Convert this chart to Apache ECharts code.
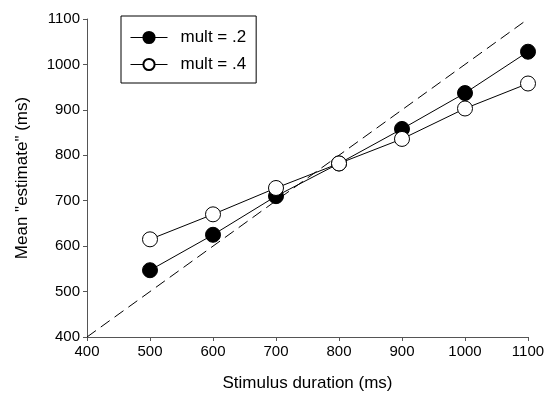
<!DOCTYPE html>
<html>
<head>
<meta charset="utf-8">
<script src="https://cdn.jsdelivr.net/npm/echarts@6/dist/echarts.min.js"></script>
<style>
html,body{margin:0;padding:0;background:#fff;}
#chart{width:550px;height:399px;}
</style>
</head>
<body>
<div id="chart"></div>
<script>
var durations = [500, 600, 700, 800, 900, 1000, 1100];
var mult2 = [547, 625, 710, 782, 858, 937, 1028];
var mult4 = [615, 670, 728, 782, 836, 903, 958];
var identityLine = [[400, 400], [1100, 1100]];
var axisTicks = [400, 500, 600, 700, 800, 900, 1000, 1100];
var seriesNames = ['mult = .2', 'mult = .4'];

function pairs(xs, ys) { return xs.map(function (x, i) { return [x, ys[i]]; }); }

var font = 'Liberation Sans, Arial, sans-serif';
var chart = echarts.init(document.getElementById('chart'), null, {renderer: 'canvas'});
var axisCommon = {
  type: 'value',
  min: axisTicks[0],
  max: axisTicks[axisTicks.length - 1],
  interval: 100,
  splitLine: {show: false},
  axisLine: {show: true, lineStyle: {color: '#555', width: 1}},
  axisTick: {show: true, inside: false, length: 4, lineStyle: {color: '#555'}},
  axisLabel: {color: '#000', fontSize: 15, fontFamily: font, margin: 7,
    formatter: function (v) { return String(v); }},
  nameLocation: 'middle',
  nameTextStyle: {color: '#000', fontSize: 17, fontFamily: font}
};
chart.setOption({
  animation: false,
  backgroundColor: '#fff',
  grid: {left: 87, right: 22, top: 19, bottom: 62},
  legend: {
    data: seriesNames,
    orient: 'vertical',
    left: 121,
    top: 16,
    itemWidth: 37,
    itemHeight: 14,
    itemGap: 10,
    padding: [13, 10, 10, 9],
    borderColor: '#000',
    borderWidth: 1,
    lineStyle: {width: 1},
    textStyle: {color: '#000', fontSize: 17, fontFamily: font, padding: [0, 0, 0, 8]}
  },
  xAxis: Object.assign({}, axisCommon, {name: 'Stimulus duration (ms)', nameGap: 38}),
  yAxis: Object.assign({}, axisCommon, {name: 'Mean "estimate" (ms)', nameGap: 56}),
  series: [
    {
      type: 'line',
      data: identityLine,
      symbol: 'none',
      silent: true,
      lineStyle: {color: '#000', width: 1, type: [11, 6]},
      z: 1
    },
    {
      name: seriesNames[0],
      type: 'line',
      data: pairs(durations, mult2),
      symbol: 'circle',
      symbolSize: 15,
      itemStyle: {color: '#000', borderColor: '#000', borderWidth: 1},
      lineStyle: {color: '#000', width: 1},
      z: 2
    },
    {
      name: seriesNames[1],
      type: 'line',
      data: pairs(durations, mult4),
      symbol: 'circle',
      symbolSize: 15,
      itemStyle: {color: '#fff', borderColor: '#000', borderWidth: 1},
      lineStyle: {color: '#000', width: 1},
      z: 3
    }
  ]
});
</script>
</body>
</html>
